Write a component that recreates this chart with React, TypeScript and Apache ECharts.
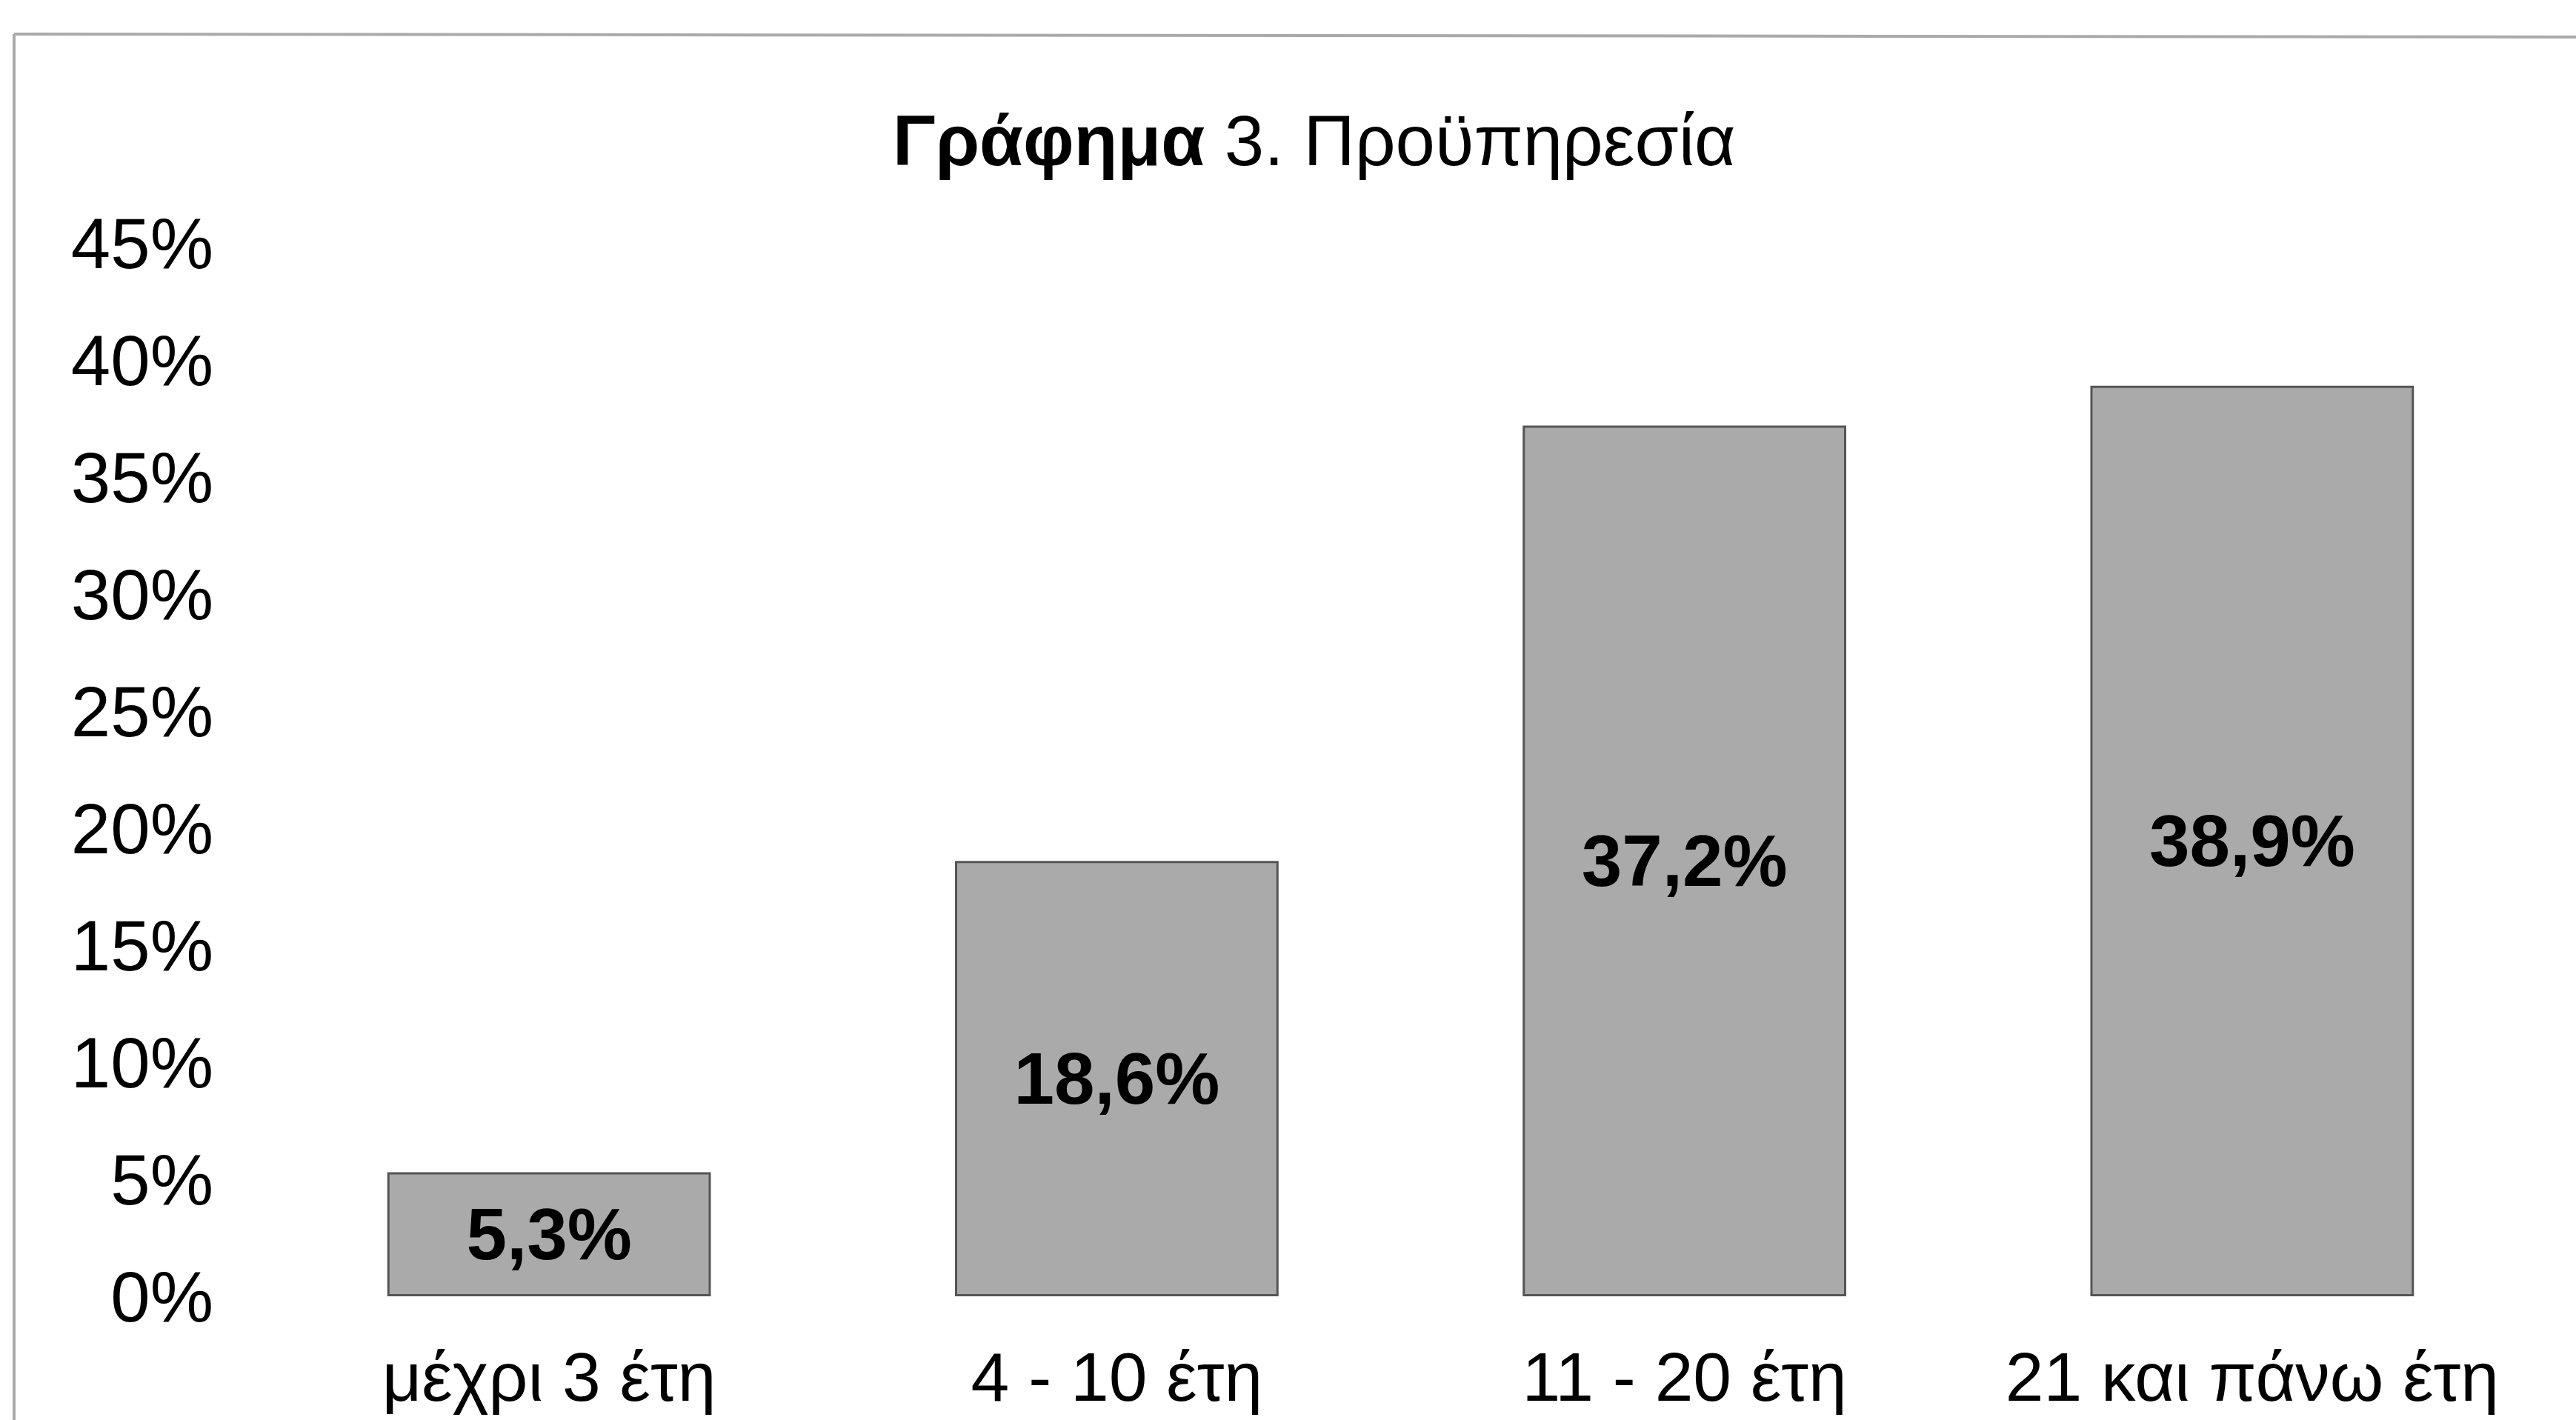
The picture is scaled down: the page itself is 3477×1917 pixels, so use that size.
import React, { useEffect, useRef } from "react";
import * as echarts from "echarts";

const categories = ["μέχρι 3 έτη", "4 - 10 έτη", "11 - 20 έτη", "21 και πάνω έτη"];
const values = [5.3, 18.6, 37.2, 38.9];
const yTicks = [0, 5, 10, 15, 20, 25, 30, 35, 40, 45];
const titleBold = "Γράφημα";
const titleRest = "3. Προϋπηρεσία";

const FONT = "'Liberation Sans', Arial, sans-serif";

export default function App() {
  const ref = useRef<HTMLDivElement>(null);
  useEffect(() => {
    if (!ref.current) return;
    const chart = echarts.init(ref.current, undefined, { renderer: "svg" });
    chart.setOption({
      animation: false,
      backgroundColor: "#ffffff",
      title: {
        text: `{b|${titleBold}\u00a0}{n|${titleRest}}`,
        left: 1200,
        top: 136,
        textStyle: {
          rich: {
            b: { fontFamily: FONT, fontWeight: "bold", fontSize: 96, color: "#000" },
            n: { fontFamily: FONT, fontWeight: "normal", fontSize: 96, color: "#000" },
          },
        },
      },
      graphic: [
        { type: "line", shape: { x1: 19, y1: 46, x2: 3477, y2: 50 }, style: { stroke: "#aaaaaa", lineWidth: 4 } },
        { type: "line", shape: { x1: 19, y1: 46, x2: 19, y2: 1917 }, style: { stroke: "#aaaaaa", lineWidth: 4 } },
      ],
      grid: { left: 358, right: 54, top: 328, bottom: 167, containLabel: false },
      xAxis: {
        type: "category",
        data: categories,
        axisLine: { show: false },
        axisTick: { show: false },
        axisLabel: { interval: 0, fontFamily: FONT, fontSize: 93, lineHeight: 93, color: "#000", margin: 62 },
      },
      yAxis: {
        type: "value",
        min: yTicks[0],
        max: yTicks[yTicks.length - 1],
        interval: 5,
        axisLine: { show: false },
        axisTick: { show: false },
        splitLine: { show: false },
        axisLabel: { fontFamily: FONT, fontSize: 96, color: "#000", margin: 70, formatter: (v: number) => `${v}%` },
      },
      series: [
        {
          type: "bar",
          data: values,
          barWidth: "57%",
          itemStyle: { color: "#aaaaaa", borderColor: "#555555", borderWidth: 3 },
          label: {
            show: true,
            position: "inside",
            fontFamily: FONT,
            fontWeight: "bold",
            fontSize: 98,
            color: "#000",
            formatter: (p: any) => `${String(p.value).replace(".", ",")}%`,
          },
        },
      ],
    });
    return () => chart.dispose();
  }, []);
  return <div ref={ref} style={{ position: "fixed", left: 0, top: 0, width: 3477, height: 1917 }} />;
}
